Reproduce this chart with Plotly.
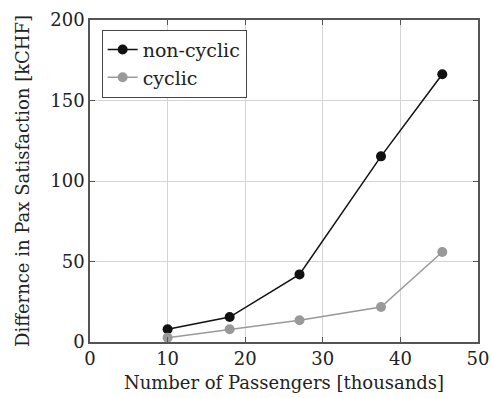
import plotly.graph_objects as go

# Passengers (thousands) and the corresponding difference in pax satisfaction (kCHF)
passengers = [10, 18, 27, 37.5, 45.4]
non_cyclic = [7.9, 15.5, 42, 115.3, 166.3]
cyclic = [2.7, 7.9, 13.5, 21.7, 55.9]

x_ticks = [0, 10, 20, 30, 40, 50]
y_ticks = [0, 50, 100, 150, 200]

FONT = "DejaVu Serif"
TXT = "#222222"

fig = go.Figure()
fig.add_trace(go.Scatter(
    x=passengers, y=non_cyclic, name="non-cyclic", mode="lines+markers",
    line=dict(color="#111111", width=1.5),
    marker=dict(color="#111111", size=10),
))
fig.add_trace(go.Scatter(
    x=passengers, y=cyclic, name="cyclic", mode="lines+markers",
    line=dict(color="#999999", width=1.5),
    marker=dict(color="#999999", size=10),
))

axis_common = dict(
    showline=True, linecolor="#555555", linewidth=1.5, mirror="ticks",
    ticks="inside", ticklen=5, tickcolor="#555555",
    showgrid=True, gridcolor="#d4d4d4", gridwidth=1,
    zeroline=False, automargin=False,
    tickfont=dict(family=FONT, size=18, color=TXT),
)

fig.update_layout(
    width=492, height=398,
    margin=dict(l=90, r=14, t=20, b=56),
    paper_bgcolor="white", plot_bgcolor="white",
    font=dict(family=FONT, size=18, color=TXT),
    showlegend=True,
    legend=dict(
        x=0.03, y=0.97, xanchor="left", yanchor="top",
        bordercolor="#444444", borderwidth=1, bgcolor="white",
        font=dict(family=FONT, size=19, color=TXT),
        tracegroupgap=0, itemwidth=30,
    ),
    xaxis=dict(
        range=[0, 50], tickvals=x_ticks,
        title=dict(text="Number of Passengers [thousands]", standoff=8,
                   font=dict(family=FONT, size=18, color=TXT)),
        **axis_common,
    ),
    yaxis=dict(
        range=[0, 200], tickvals=y_ticks,
        title=dict(text="Differnce in Pax Satisfaction [kCHF]", standoff=16,
                   font=dict(family=FONT, size=18, color=TXT)),
        **axis_common,
    ),
)

fig.write_html("out.html")
